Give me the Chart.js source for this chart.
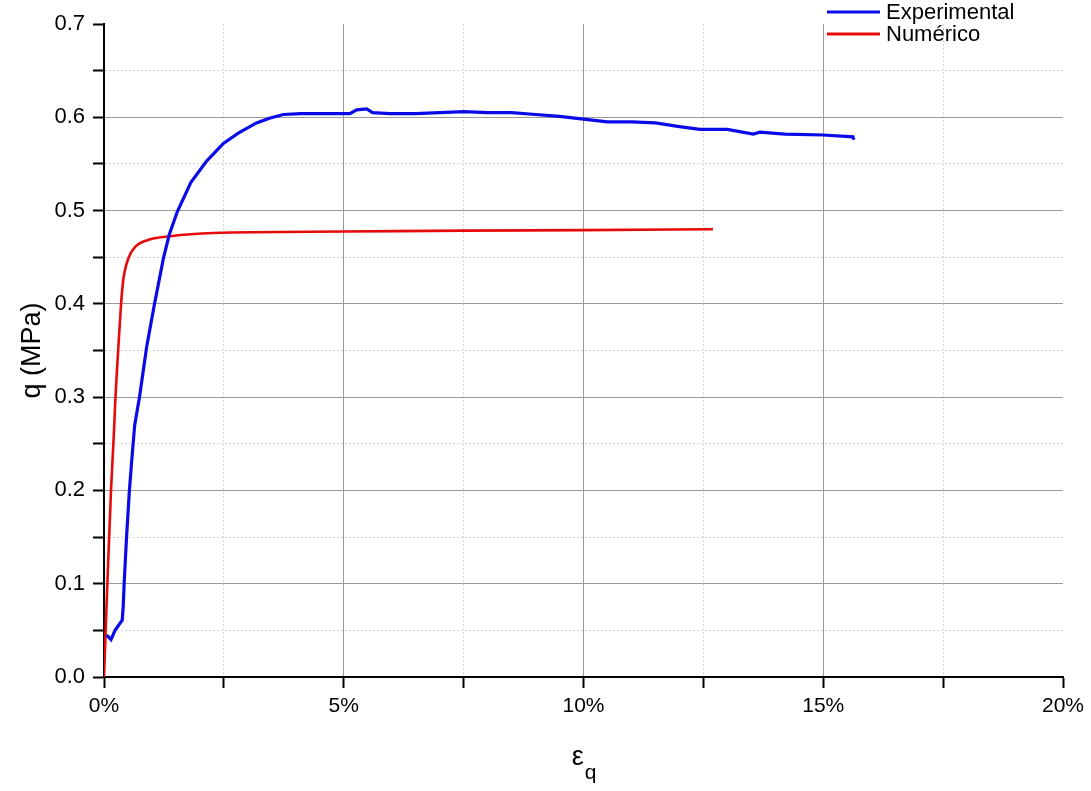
<!doctype html>
<html lang="pt">
  <head>
    <meta charset="utf-8">
    <script src="https://cdn.jsdelivr.net/npm/chart.js@4.4.1/dist/chart.umd.min.js"></script>
    <title>q x eq</title>
    <style>
      body { margin: 0; background: #fff; }
    </style>
  </head>
  <body>
    <canvas id="qChart" width="1091" height="791"></canvas>

  <script>
    // strain in %, q in MPa
    const expStrain = [0.056, 0.146, 0.23, 0.38, 0.40, 0.42, 0.47, 0.53, 0.58, 0.64, 0.74, 0.89, 1.05, 1.24, 1.36, 1.53, 1.81, 2.14, 2.49, 2.80, 3.18, 3.45, 3.74, 4.10, 4.57, 4.90, 5.13, 5.27, 5.48, 5.60, 5.96, 6.50, 7.00, 7.50, 8.00, 8.50, 9.00, 9.50, 10.00, 10.50, 11.00, 11.50, 12.00, 12.43, 13.00, 13.54, 13.68, 14.20, 15.00, 15.62, 15.64];
    const expStress = [0.045, 0.040, 0.050, 0.061, 0.075, 0.100, 0.150, 0.200, 0.233, 0.270, 0.300, 0.354, 0.399, 0.449, 0.474, 0.499, 0.530, 0.553, 0.572, 0.583, 0.594, 0.599, 0.603, 0.604, 0.604, 0.604, 0.604, 0.608, 0.609, 0.605, 0.604, 0.604, 0.605, 0.606, 0.605, 0.605, 0.603, 0.601, 0.598, 0.595, 0.595, 0.594, 0.590, 0.587, 0.587, 0.582, 0.584, 0.582, 0.581, 0.579, 0.576];

    const numStrain = [0, 0.07, 0.146, 0.21, 0.23, 0.30, 0.355, 0.40, 0.51, 0.65, 0.89, 1.38, 2.28, 5, 7.5, 10, 12.7];
    const numStress = [0, 0.10, 0.20, 0.265, 0.29, 0.354, 0.399, 0.425, 0.449, 0.461, 0.468, 0.4725, 0.476, 0.4775, 0.4785, 0.479, 0.48];

    const seriesLabels = ['Experimental', 'Numérico'];
    const seriesColors = ['#0a0ae8', '#e60a0a'];

    const xTitle = 'ε';
    const xTitleSub = 'q';
    const yTitle = 'q (MPa)';

    const FONT = 'Liberation Sans, Arial, sans-serif';

    const toPoints = (xs, ys) => xs.map((x, i) => ({x: x, y: ys[i]}));

    function isMajorX(v) { return Math.abs(v / 5 - Math.round(v / 5)) < 1e-6; }
    function isMajorY(v) { return Math.abs(v * 10 - Math.round(v * 10)) < 1e-6; }

    // legend + x title with subscript, drawn on the canvas
    const extras = {
      id: 'extras',
      afterDraw(chart) {
        const ctx = chart.ctx;
        ctx.save();
        chart.data.datasets.forEach((ds, i) => {
          const y = 12 + i * 22;
          ctx.strokeStyle = ds.borderColor;
          ctx.lineWidth = 3;
          ctx.beginPath();
          ctx.moveTo(827, y);
          ctx.lineTo(880, y);
          ctx.stroke();
          ctx.fillStyle = '#000';
          ctx.font = '22px ' + FONT;
          ctx.textBaseline = 'middle';
          ctx.textAlign = 'left';
          ctx.fillText(ds.label, 886, y + 1);
        });

        const xs = chart.scales.x;
        const cx = (xs.left + xs.right) / 2;
        ctx.fillStyle = '#000';
        ctx.textBaseline = 'alphabetic';
        ctx.font = '27px ' + FONT;
        const w1 = ctx.measureText(xTitle).width;
        ctx.font = '21px ' + FONT;
        const w2 = ctx.measureText(xTitleSub).width;
        const start = cx - (w1 + w2) / 2;
        ctx.font = '27px ' + FONT;
        ctx.fillText(xTitle, start, 765);
        ctx.font = '21px ' + FONT;
        ctx.fillText(xTitleSub, start + w1 + 1, 779);
        ctx.restore();
      }
    };

    window.addEventListener('load', () => {
      new Chart(document.getElementById('qChart'), {
        type: 'line',
        data: {
          datasets: [
            {
              label: seriesLabels[0],
              data: toPoints(expStrain, expStress),
              borderColor: seriesColors[0],
              borderWidth: 3.2,
              pointRadius: 0,
              tension: 0,
              fill: false
            },
            {
              label: seriesLabels[1],
              data: toPoints(numStrain, numStress),
              borderColor: seriesColors[1],
              borderWidth: 2.6,
              pointRadius: 0,
              cubicInterpolationMode: 'monotone',
              fill: false
            }
          ]
        },
        options: {
          responsive: false,
          animation: false,
          layout: { padding: { top: 24, right: 28, left: 0, bottom: 0 } },
          plugins: {
            legend: { display: false },
            tooltip: { enabled: false }
          },
          scales: {
            x: {
              type: 'linear',
              min: 0,
              max: 20,
              afterFit: (s) => { s.height = 114; },
              ticks: {
                stepSize: 2.5,
                autoSkip: false,
                maxRotation: 0,
                padding: 6,
                color: '#000',
                font: { family: FONT, size: 21 },
                callback: (v) => isMajorX(v) ? Math.round(v) + '%' : ''
              },
              grid: {
                color: (c) => {
                  if (!c.tick) return 'transparent';
                  const v = c.tick.value;
                  if (v === 0 || v === 20) return 'transparent';
                  return isMajorX(v) ? '#9a9a9a' : '#d4d4d4';
                },
                lineWidth: 1,
                tickColor: '#000',
                tickWidth: 2,
                tickLength: 11
              },
              border: {
                color: '#000',
                width: 2,
                dash: (c) => (c.tick && !isMajorX(c.tick.value)) ? [2, 2] : []
              }
            },
            y: {
              min: 0,
              max: 0.7,
              afterFit: (s) => { s.width = 104; },
              ticks: {
                stepSize: 0.05,
                autoSkip: false,
                padding: 8,
                color: '#000',
                font: { family: FONT, size: 22 },
                callback: (v) => isMajorY(v) ? v.toFixed(1) : ''
              },
              grid: {
                color: (c) => {
                  if (!c.tick) return 'transparent';
                  const v = c.tick.value;
                  if (v < 1e-6 || v > 0.699) return 'transparent';
                  return isMajorY(v) ? '#9a9a9a' : '#d4d4d4';
                },
                lineWidth: 1,
                tickColor: '#000',
                tickWidth: 2,
                tickLength: 11
              },
              border: {
                color: '#000',
                width: 2,
                dash: (c) => (c.tick && !isMajorY(c.tick.value)) ? [2, 2] : []
              },
              title: {
                display: true,
                text: yTitle,
                color: '#000',
                font: { family: FONT, size: 27 },
                padding: { top: 16, bottom: 4 }
              }
            }
          }
        },
        plugins: [extras]
      });
    });
  </script>
  </body>
</html>
